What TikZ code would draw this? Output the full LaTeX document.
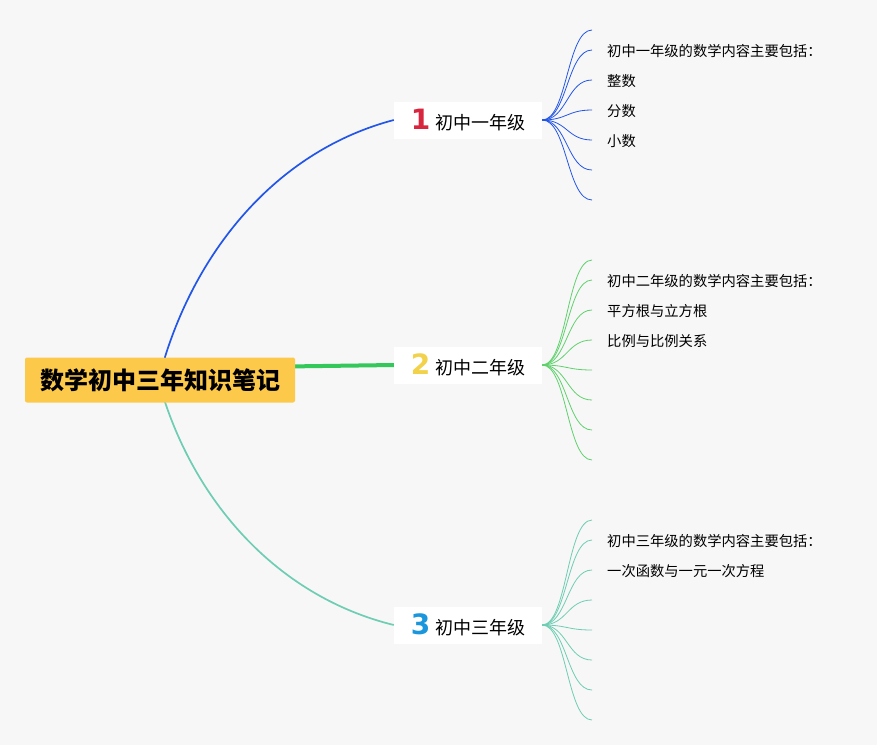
\documentclass[tikz,border=0pt]{standalone}
\usepackage{fontspec}
\setmainfont{Noto Sans CJK SC}
\newfontfamily\numfont{DejaVu Sans}
\usetikzlibrary{positioning}

\definecolor{bgcol}{HTML}{F7F7F8}
\definecolor{rootyellow}{HTML}{FDC94B}
\definecolor{gradeblue}{HTML}{2356E6}
\definecolor{gradegreen}{HTML}{34C759}
\definecolor{leafgreen}{HTML}{5FD16C}
\definecolor{gradeteal}{HTML}{6ECDB2}
\definecolor{numred}{HTML}{D7263D}
\definecolor{numyellow}{HTML}{F2D24A}
\definecolor{numblue}{HTML}{1A96DC}

\newcommand{\gradenum}[2]{{\numfont\bfseries\fontsize{28}{28}\selectfont\color{#1}#2}\hspace{5pt}}

\begin{document}
\begin{tikzpicture}[
    x=1pt, y=-1pt,
    root/.style={fill=rootyellow, rounded corners=2pt, minimum width=270pt, minimum height=45pt, inner sep=0pt, font=\fontsize{24}{28}\selectfont\bfseries},
    grade/.style={fill=white, minimum width=148pt, minimum height=37pt, inner sep=0pt, font=\fontsize{18}{21}\selectfont},
    item/.style={anchor=west, inner sep=0pt, font=\fontsize{14.3}{17}\selectfont},
    branch/.style={line width=1.7pt},
    leaf/.style={line width=0.8pt}
]
\fill[bgcol] (0,0) rectangle (877,745);

% main topic and the three grades
\node[grade] (b1) at (468,120)  {\gradenum{numred}{1}初中一年级};
\node[grade] (b2) at (468,365)  {\gradenum{numyellow}{2}初中二年级};
\node[grade] (b3) at (468,625)  {\gradenum{numblue}{3}初中三年级};

\draw[branch, gradeblue] (165,380) -- (165,357) .. controls (200,245) and (280,150) .. (b1.west);
\draw[branch, gradeteal] (165,380) -- (165,402) .. controls (200,507) and (280,597) .. (b3.west);
\draw[line width=4pt, gradegreen] (250,367) -- (b2.west);
\node[root] (root) at (160,380) {数学初中三年知识笔记};

% leaves of grade 1
\foreach \y [count=\i] in {30,50,80,110,140,170,200} {
    \coordinate (l1-\i) at (592,\y);
    \draw[leaf, gradeblue] (b1.east) .. controls +(25,0) and +(-25,0) .. (l1-\i);
}
\node[item, right=15pt of l1-2, yshift=-1pt] (t1a) {初中一年级的数学内容主要包括：};
\node[item, right=15pt of l1-3, yshift=-1pt] (t1b) {整数};
\node[item, right=15pt of l1-4, yshift=-1pt] (t1c) {分数};
\node[item, right=15pt of l1-5, yshift=-1pt] (t1d) {小数};

% leaves of grade 2
\foreach \y [count=\i] in {260,280,310,340,370,400,430,460} {
    \coordinate (l2-\i) at (592,\y);
    \draw[leaf, leafgreen] (b2.east) .. controls +(25,0) and +(-25,0) .. (l2-\i);
}
\node[item, right=15pt of l2-2, yshift=-1pt] (t2a) {初中二年级的数学内容主要包括：};
\node[item, right=15pt of l2-3, yshift=-1pt] (t2b) {平方根与立方根};
\node[item, right=15pt of l2-4, yshift=-1pt] (t2c) {比例与比例关系};

% leaves of grade 3
\foreach \y [count=\i] in {520,540,570,600,630,660,690,720} {
    \coordinate (l3-\i) at (592,\y);
    \draw[leaf, gradeteal] (b3.east) .. controls +(25,0) and +(-25,0) .. (l3-\i);
}
\node[item, right=15pt of l3-2, yshift=-1pt] (t3a) {初中三年级的数学内容主要包括：};
\node[item, right=15pt of l3-3, yshift=-1pt] (t3b) {一次函数与一元一次方程};
\end{tikzpicture}
\end{document}
